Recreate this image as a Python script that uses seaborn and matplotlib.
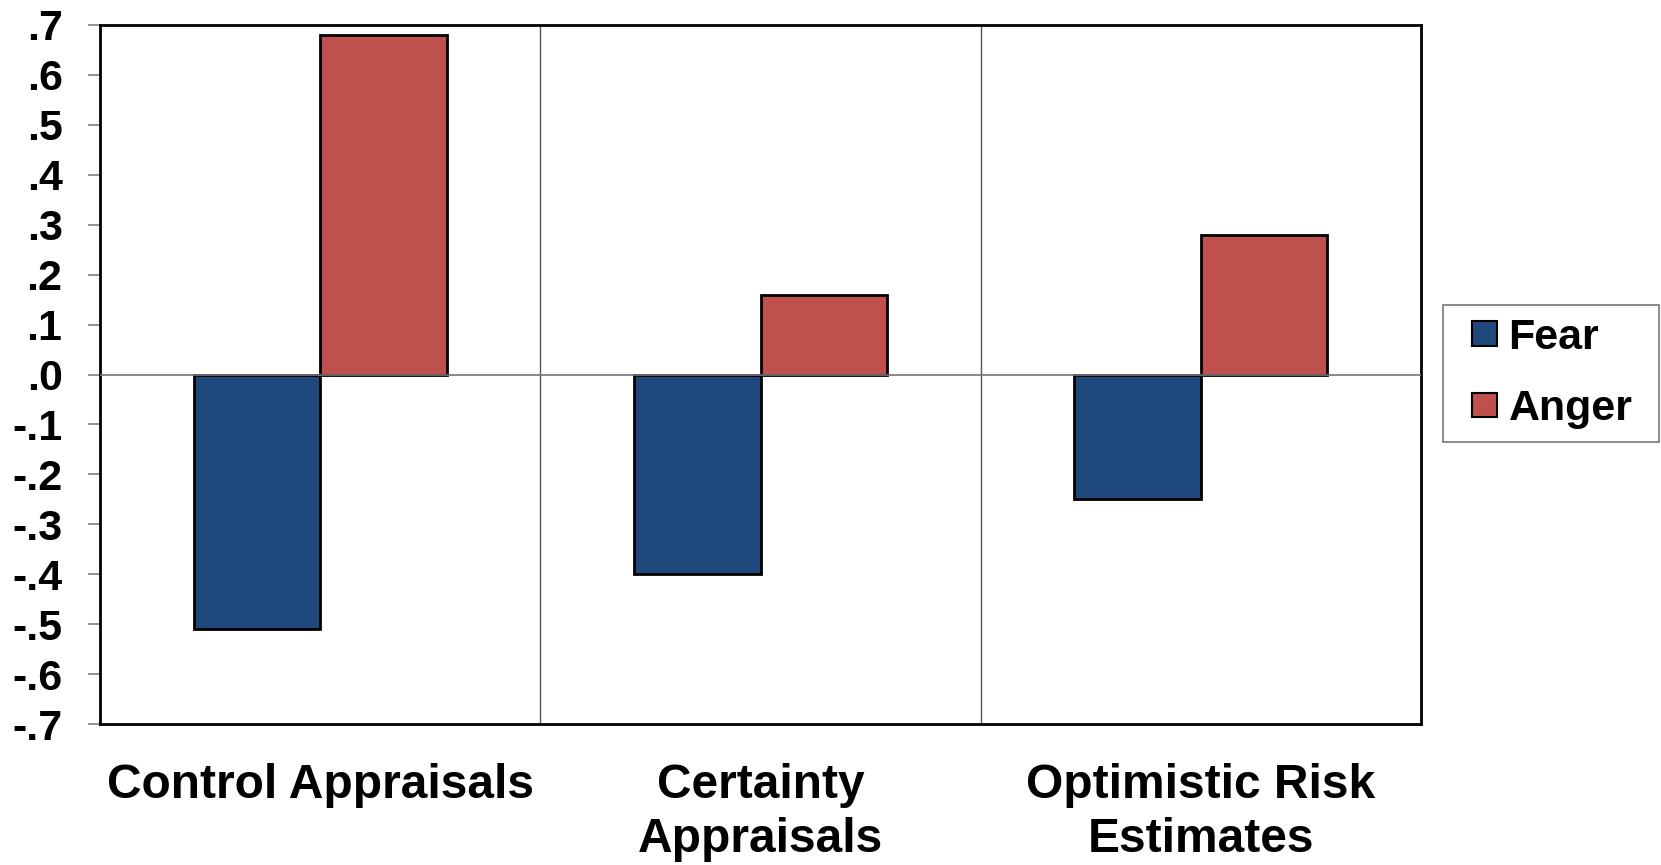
import matplotlib
matplotlib.use("Agg")
import matplotlib.pyplot as plt
from matplotlib.legend_handler import HandlerPatch
import seaborn as sns
import pandas as pd

categories = ["Control Appraisals", "Certainty\nAppraisals", "Optimistic Risk\nEstimates"]
emotions = ["Fear", "Anger"]
fear_values = [-0.51, -0.40, -0.25]
anger_values = [0.68, 0.16, 0.28]
y_ticks = [-0.7, -0.6, -0.5, -0.4, -0.3, -0.2, -0.1, 0.0, 0.1, 0.2, 0.3, 0.4, 0.5, 0.6, 0.7]
y_tick_labels = ["-.7", "-.6", "-.5", "-.4", "-.3", "-.2", "-.1", ".0",
                 ".1", ".2", ".3", ".4", ".5", ".6", ".7"]

df = pd.DataFrame({
    "category": categories * 2,
    "emotion": ["Fear"] * 3 + ["Anger"] * 3,
    "value": fear_values + anger_values,
})

sns.set_theme(style="white")
plt.rcParams["font.family"] = ["Liberation Sans", "DejaVu Sans"]
plt.rcParams["font.weight"] = "bold"
for key in ("text.color", "axes.labelcolor", "xtick.color", "ytick.color"):
    plt.rcParams[key] = "black"

W, H = 1661, 865
fig = plt.figure(figsize=(W / 100, H / 100), dpi=100)
ax = fig.add_axes([100 / W, 1 - 724 / H, (1421 - 100) / W, (724 - 25) / H])

palette = {"Fear": "#1F497D", "Anger": "#C0504D"}
sns.barplot(data=df, x="category", y="value", hue="emotion", hue_order=emotions,
            order=categories, palette=palette, width=0.574, edgecolor="black",
            linewidth=2, saturation=1, ax=ax, zorder=3)

ax.set_xlim(-0.5, 2.5)
ax.set_ylim(-0.7, 0.7)
ax.set_yticks(y_ticks)
ax.set_yticklabels(y_tick_labels, fontsize=31, fontweight="bold", color="black")
ax.tick_params(axis="y", direction="out", length=9, width=1.2, color="#808080", pad=18,
               left=True)
ax.tick_params(axis="x", length=0, pad=28)
for lbl in ax.get_xticklabels():
    lbl.set_fontsize(34.5)
    lbl.set_fontweight("bold")
    lbl.set_color("black")
    lbl.set_linespacing(1.27)
ax.set_xlabel("")
ax.set_ylabel("")

# category separators and zero line
for xb in (0.5, 1.5):
    ax.axvline(xb, color="#555555", linewidth=1, zorder=1)
ax.axhline(0, color="#777777", linewidth=1.2, zorder=4)

for side in ("left", "bottom", "top", "right"):
    ax.spines[side].set_color("black")
    ax.spines[side].set_linewidth(2.0)


def square_patch(legend, orig_handle, xdescent, ydescent, width, height, fontsize):
    # square swatch sitting at the right end of the handle box
    return plt.Rectangle((-xdescent + width - height, -ydescent), height, height)


ax.legend_.remove()
handles = [plt.Rectangle((0, 0), 1, 1, facecolor=palette[e], edgecolor="black", linewidth=1.5)
           for e in emotions]
leg = fig.legend(handles, emotions, loc="center left",
                 bbox_to_anchor=(1443 / W, 1 - 444 / H, (1659 - 1443) / W, (444 - 303) / H),
                 mode="expand",
                 handler_map={plt.Rectangle: HandlerPatch(patch_func=square_patch)},
                 prop={"size": 31, "weight": "bold"}, frameon=True, fancybox=False,
                 handlelength=0.95, handleheight=0.5, handletextpad=0.27,
                 labelspacing=0.74, borderpad=0.3, borderaxespad=0)
leg.get_frame().set_edgecolor("#555555")
leg.get_frame().set_linewidth(1.2)

fig.savefig("out.png", dpi=100)
